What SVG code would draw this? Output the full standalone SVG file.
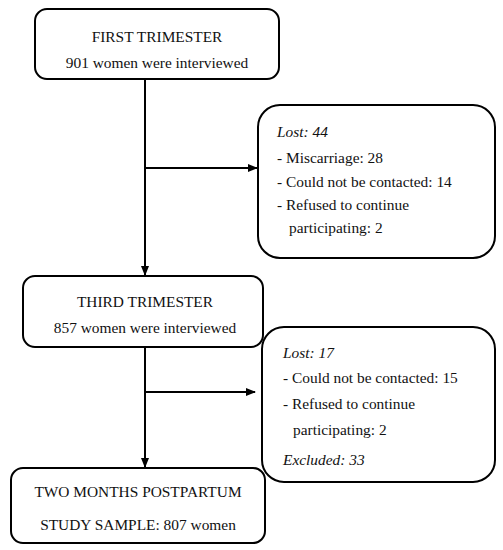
<svg xmlns="http://www.w3.org/2000/svg" width="503" height="550" viewBox="0 0 503 550">
<style>
.box{fill:#fff;stroke:#000;stroke-width:2}
.t{font-family:"Liberation Serif","Times New Roman",serif;font-size:15.4px;fill:#111}
.c{text-anchor:middle}
.i{font-style:italic}
.ln{stroke:#000;stroke-width:2;fill:none}
</style>
<defs>
<marker id="ah" markerWidth="10" markerHeight="10" refX="9" refY="5" orient="auto" markerUnits="userSpaceOnUse">
<path d="M0,1 L10,5 L0,9 Z" fill="#000"/>
</marker>
</defs>
<rect width="503" height="550" fill="#fff"/>
<g id="connectors">
<line class="ln" x1="145" y1="79" x2="145" y2="275" marker-end="url(#ah)"/>
<line class="ln" x1="145" y1="168" x2="257" y2="168" marker-end="url(#ah)"/>
<line class="ln" x1="145" y1="347" x2="145" y2="467" marker-end="url(#ah)"/>
<line class="ln" x1="145" y1="392" x2="255" y2="392" marker-end="url(#ah)"/>
</g>
<g id="first">
<rect class="box" x="35" y="9" width="244" height="70" rx="12"/>
<text class="t c" x="157" y="42">FIRST TRIMESTER</text>
<text class="t c" x="157" y="68">901 women were interviewed</text>
</g>
<g id="lost1">
<rect class="box" x="258" y="105" width="237" height="153" rx="22"/>
<text class="t i" x="277" y="137">Lost: 44</text>
<text class="t" x="277" y="163">- Miscarriage: 28</text>
<text class="t" x="277" y="187">- Could not be contacted: 14</text>
<text class="t" x="277" y="210">- Refused to continue</text>
<text class="t" x="289" y="233">participating: 2</text>
</g>
<g id="third">
<rect class="box" x="23" y="276" width="240" height="71" rx="12"/>
<text class="t c" x="145" y="307">THIRD TRIMESTER</text>
<text class="t c" x="145" y="333">857 women were interviewed</text>
</g>
<g id="lost2">
<rect class="box" x="262" y="327" width="233" height="155" rx="22"/>
<text class="t i" x="283" y="358">Lost: 17</text>
<text class="t" x="283" y="383">- Could not be contacted: 15</text>
<text class="t" x="283" y="409">- Refused to continue</text>
<text class="t" x="293" y="435">participating: 2</text>
<text class="t i" x="283" y="465">Excluded: 33</text>
</g>
<g id="postpartum">
<rect class="box" x="11" y="468" width="254" height="75" rx="12"/>
<text class="t c" x="138" y="497">TWO MONTHS POSTPARTUM</text>
<text class="t c" x="138" y="530">STUDY SAMPLE: 807 women</text>
</g>
</svg>
